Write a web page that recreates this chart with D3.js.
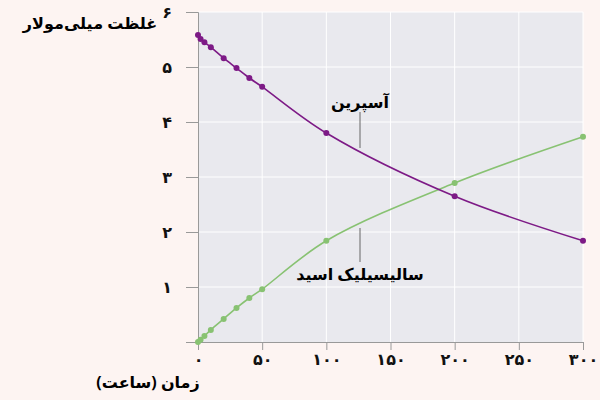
<!DOCTYPE html>
<html><head><meta charset="utf-8">
<script src="https://cdn.jsdelivr.net/npm/d3@7"></script>
<style>body{margin:0;background:#fdf4f2}</style>
</head><body>
<svg id="c" width="600" height="400"></svg>
<script>
var times = [0, 2, 5, 10, 20, 30, 40, 50, 100, 200, 300];
var aspirin = [5.58, 5.51, 5.45, 5.36, 5.16, 4.98, 4.8, 4.64, 3.8, 2.65, 1.84];
var salicylic = [0, 0.04, 0.11, 0.22, 0.42, 0.62, 0.8, 0.96, 1.84, 2.89, 3.73];
var xTicks = [0, 50, 100, 150, 200, 250, 300];
var yTicks = [1, 2, 3, 4, 5, 6];
var fa = function(n){ return String(n).replace(/\d/g, function(d){ return "۰۱۲۳۴۵۶۷۸۹"[d]; }); };

var svg = d3.select("#c");
var x = d3.scaleLinear().domain([0, 300]).range([198, 583]);
var y = d3.scaleLinear().domain([0, 6]).range([342, 12]);

svg.append("rect").attr("x", 198).attr("y", 12).attr("width", 385).attr("height", 330).attr("fill", "#e9e9ee");
svg.selectAll(".gx").data(xTicks.slice(1)).enter().append("line")
  .attr("x1", d => x(d)).attr("x2", d => x(d)).attr("y1", 12).attr("y2", 342).attr("stroke", "#fff");
svg.selectAll(".gy").data(yTicks).enter().append("line")
  .attr("x1", 198).attr("x2", 583).attr("y1", d => y(d)).attr("y2", d => y(d)).attr("stroke", "#fff");

var ax = svg.append("g").attr("transform", "translate(0,342)")
  .call(d3.axisBottom(x).tickValues(xTicks).tickFormat(fa).tickSize(8).tickPadding(4));
var ay = svg.append("g").attr("transform", "translate(198,0)")
  .call(d3.axisLeft(y).tickValues(yTicks).tickFormat(fa).tickSize(12).tickPadding(14));
[ax, ay].forEach(function(g){
  g.select(".domain").attr("stroke", "#999");
  g.selectAll(".tick line").attr("stroke", "#999");
  g.selectAll("text").attr("font-family", "Noto Sans, DejaVu Sans").attr("font-size", 16).attr("font-weight", "bold").attr("fill", "#111");
});

var line = d3.line().x(d => x(d[0])).y(d => y(d[1])).curve(d3.curveCatmullRom.alpha(0.5));
function series(vals, col){
  var pts = times.map((t, i) => [t, vals[i]]);
  svg.append("path").attr("d", line(pts)).attr("fill", "none").attr("stroke", col).attr("stroke-width", 1.6);
  svg.selectAll(null).data(pts).enter().append("circle")
    .attr("cx", d => x(d[0])).attr("cy", d => y(d[1])).attr("r", 3).attr("fill", col);
}
series(salicylic, "#88c272");
series(aspirin, "#7d1a86");

svg.append("line").attr("x1", 360).attr("y1", 112).attr("x2", 360).attr("y2", 148).attr("stroke", "#666");
svg.append("line").attr("x1", 360).attr("y1", 228).attr("x2", 360).attr("y2", 262).attr("stroke", "#666");
var tf = "Noto Sans, DejaVu Sans";
svg.append("text").attr("x", 360).attr("y", 108).attr("text-anchor", "middle").attr("font-family", tf).attr("font-size", 16).attr("font-weight", "bold").text("آسپرین");
svg.append("text").attr("x", 360).attr("y", 280).attr("text-anchor", "middle").attr("font-family", tf).attr("font-size", 16).attr("font-weight", "bold").text("سالیسیلیک اسید");
svg.append("text").attr("x", 90).attr("y", 29).attr("text-anchor", "middle").attr("font-family", tf).attr("font-size", 16).attr("font-weight", "bold").text("غلظت میلی‌مولار");
svg.append("text").attr("x", 148).attr("y", 388).attr("text-anchor", "middle").attr("font-family", tf).attr("font-size", 16).attr("font-weight", "bold").text("زمان (ساعت)");
</script>
</body></html>
